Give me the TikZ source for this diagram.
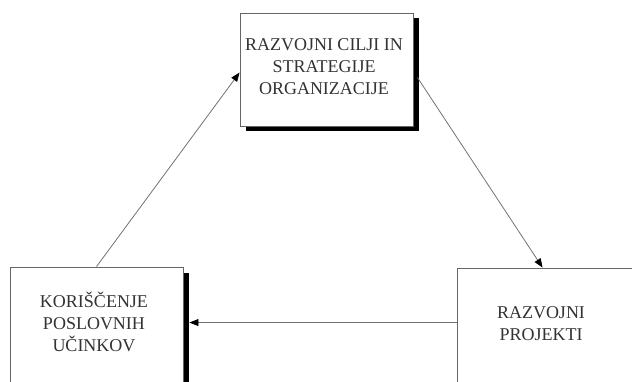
\documentclass[tikz,border=0pt]{standalone}
\usepackage{fontspec}
\setmainfont{Liberation Serif}
\usetikzlibrary{arrows.meta,calc,shadows}
\begin{document}
\begin{tikzpicture}[x=1pt,y=-1pt,
  box/.style={draw=black!60, line width=0.9pt, fill=white, rectangle,
    drop shadow={shadow xshift=5.5pt, shadow yshift=-5.5pt, fill=black, opacity=1}},
  plainbox/.style={draw=black!60, line width=0.9pt, fill=white, rectangle},
  label/.style={align=center, text=black!80, font=\fontsize{18}{22}\selectfont},
  arr/.style={draw=black!55, line width=0.8pt, -{Triangle[length=9pt,width=7pt,color=black]}}]
\useasboundingbox (0,0) rectangle (632,382);
\clip (0,0) rectangle (632,382);
\fill[white] (0,0) rectangle (632,382);

% top box: goals and strategies
\node[box, minimum width=173pt, minimum height=113pt] (cilji) at (326.5,69.5) {};
\node[label] (ciljitext) at (324,67) {RAZVOJNI CILJI IN\\STRATEGIJE\\ORGANIZACIJE};

% lower left box
\node[box, minimum width=173pt, minimum height=146pt] (kor) at (96.5,340) {};
\node[label] (kortext) at (94,322) {KORIŠČENJE\\POSLOVNIH\\UČINKOV};

% lower right box
\node[plainbox, minimum width=200pt, minimum height=146pt] (proj) at (557,341) {};
\node[label] (projtext) at (541,324) {RAZVOJNI\\PROJEKTI};

% cycle of connectors
\draw[arr] ($(kor.north west)+(87,0)$) -- ($(cilji.north west)+(0,60)$);
\draw[arr] ($(cilji.north east)+(4,65)$) -- ($(proj.north west)+(86,0)$);
\draw[arr] ($(proj.north west)+(0,55)$) -- ($(kor.north east)+(6,56)$);
\end{tikzpicture}
\end{document}
